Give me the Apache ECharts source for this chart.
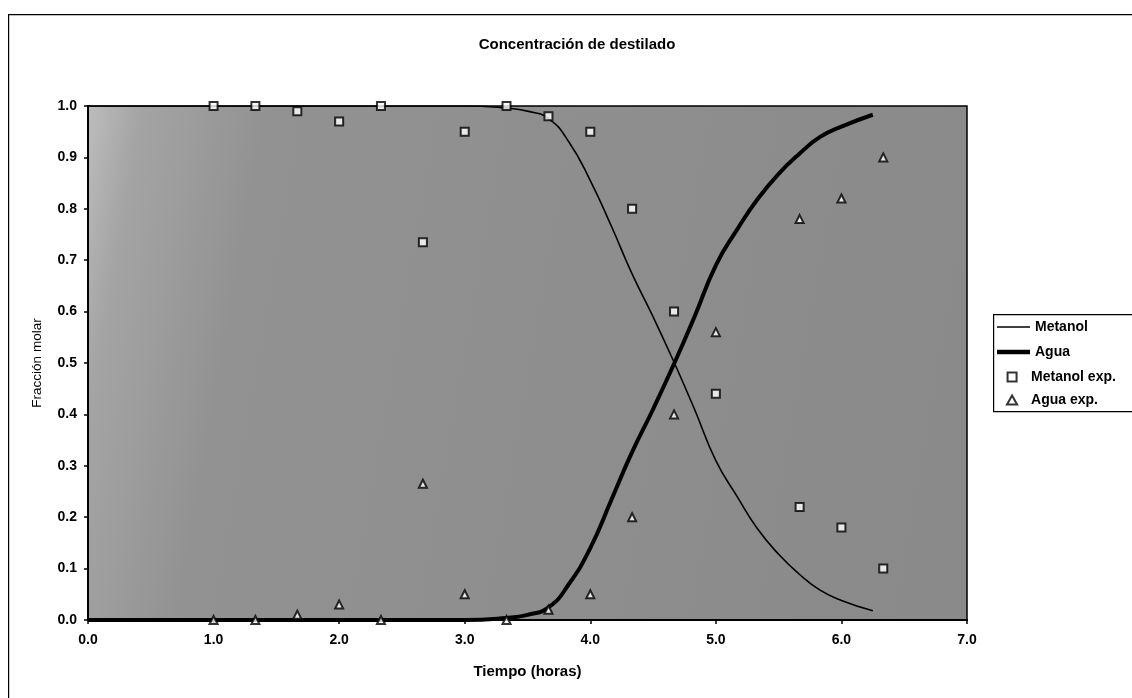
<!DOCTYPE html>
<html>
<head>
<meta charset="utf-8">
<script src="https://cdn.jsdelivr.net/npm/echarts@6/dist/echarts.min.js"></script>
<style>
html,body{margin:0;padding:0;background:#fff;}
#chart{width:1132px;height:698px;}
</style>
</head>
<body>
<div id="chart"></div>
<script>
// ---- Data ----
const titleText = 'Concentración de destilado';
const xAxisName = 'Tiempo (horas)';
const yAxisName = 'Fracción molar';

// experimental times (h)
const timeExp = [1.0, 1.333, 1.667, 2.0, 2.333, 2.667, 3.0, 3.333, 3.667, 4.0, 4.333, 4.667, 5.0, 5.667, 6.0, 6.333];
const metanolExp = [1.0, 1.0, 0.99, 0.97, 1.0, 0.735, 0.95, 1.0, 0.98, 0.95, 0.80, 0.60, 0.44, 0.22, 0.18, 0.10];
const aguaExp    = [0.0, 0.0, 0.01, 0.03, 0.0, 0.265, 0.05, 0.0, 0.02, 0.05, 0.20, 0.40, 0.56, 0.78, 0.82, 0.90];

// model curves
const timeModel = [0, 1, 2, 3, 3.33, 3.5, 3.67, 3.83, 4.0, 4.17, 4.33, 4.5, 4.67, 4.83, 5.0, 5.17, 5.33, 5.5, 5.67, 5.83, 6.0, 6.25];
const metanolModel = [1.0, 1.0, 1.0, 1.0, 0.996, 0.99, 0.975, 0.93, 0.855, 0.765, 0.675, 0.59, 0.50, 0.41, 0.31, 0.24, 0.178, 0.128, 0.088, 0.058, 0.038, 0.018];
const aguaModel    = [0.0, 0.0, 0.0, 0.0, 0.004, 0.01, 0.025, 0.07, 0.14, 0.235, 0.325, 0.41, 0.50, 0.59, 0.69, 0.76, 0.818, 0.868, 0.908, 0.94, 0.96, 0.983];

const xTicks = [0, 1, 2, 3, 4, 5, 6, 7];
const yTicks = [0, 0.1, 0.2, 0.3, 0.4, 0.5, 0.6, 0.7, 0.8, 0.9, 1.0];

const zip = (xs, ys) => xs.map((x, i) => [x, ys[i]]);

const FONT = "'Liberation Sans', Arial, sans-serif";

const chart = echarts.init(document.getElementById('chart'), null, {renderer: 'canvas'});

const option = {
  animation: false,
  backgroundColor: '#ffffff',
  title: {
    text: titleText,
    left: 572, textAlign: 'center',
    top: 32,
    textStyle: {fontFamily: FONT, fontSize: 15, fontWeight: 'bold', color: '#000'}
  },
  grid: {
    left: 88, right: 165, top: 106, bottom: 78,
    show: true,
    backgroundColor: {
      type: 'linear', x: 0, y: 0, x2: 1, y2: 0.3,
      colorStops: [
        {offset: 0, color: '#bdbdbd'},
        {offset: 0.06, color: '#a4a4a4'},
        {offset: 0.2, color: '#929292'},
        {offset: 1, color: '#8a8a8a'}
      ]
    },
    borderColor: '#000', borderWidth: 1.5
  },
  xAxis: {
    type: 'value', min: xTicks[0], max: xTicks[xTicks.length - 1], interval: 1,
    name: xAxisName, nameLocation: 'middle', nameGap: 44,
    nameTextStyle: {fontFamily: FONT, fontSize: 15, fontWeight: 'bold', color: '#000'},
    axisLine: {show: true, lineStyle: {color: '#000', width: 2}},
    axisTick: {show: true, length: 4, lineStyle: {color: '#000', width: 1.5}},
    axisLabel: {margin: 13, fontFamily: FONT, fontSize: 14, fontWeight: 'bold', color: '#000',
      formatter: v => v.toFixed(1)},
    splitLine: {show: false}
  },
  yAxis: {
    type: 'value', min: yTicks[0], max: yTicks[yTicks.length - 1], interval: 0.1,
    name: yAxisName, nameLocation: 'middle', nameGap: 44, nameRotate: 90,
    nameTextStyle: {fontFamily: FONT, fontSize: 13.5, color: '#000'},
    axisLine: {show: true, lineStyle: {color: '#000', width: 2}},
    axisTick: {show: true, length: 4, lineStyle: {color: '#000', width: 1.5}},
    axisLabel: {margin: 11, fontFamily: FONT, fontSize: 14, fontWeight: 'bold', color: '#000',
      formatter: v => v.toFixed(1)},
    splitLine: {show: false}
  },
  legend: [
    {
      data: [
        {name: 'Metanol', icon: 'path://M0,0L33,0L33,1.6L0,1.6Z'},
        {name: 'Agua', icon: 'path://M0,0L33,0L33,4.5L0,4.5Z'}
      ],
      orient: 'vertical', left: 992, top: 315,
      itemWidth: 33, itemHeight: 14, itemGap: 11,
      itemStyle: {color: '#000', borderWidth: 0},
      textStyle: {fontFamily: FONT, fontSize: 14, fontWeight: 'bold', color: '#000'},
      selectedMode: false
    },
    {
      data: [
        {name: 'Metanol exp.', icon: 'path://M0,0L9,0L9,9L0,9Z'},
        {name: 'Agua exp.', icon: 'path://M4.5,0L9,8L0,8Z'}
      ],
      orient: 'vertical', left: 1001, top: 365,
      itemWidth: 28, itemHeight: 9, itemGap: 9,
      itemStyle: {color: '#fff', borderColor: '#000', borderWidth: 2},
      textStyle: {fontFamily: FONT, fontSize: 14, fontWeight: 'bold', color: '#000'},
      selectedMode: false
    }
  ],
  graphic: [
    {type: 'rect', left: 993, top: 314, shape: {width: 145, height: 97},
      style: {fill: 'rgba(0,0,0,0)', stroke: '#000', lineWidth: 1.2}, z: -1, silent: true},
    {type: 'rect', left: 8, top: 14, shape: {width: 1140, height: 700},
      style: {fill: 'rgba(0,0,0,0)', stroke: '#000', lineWidth: 1.2}, z: -1, silent: true}
  ],
  series: [
    {
      name: 'Metanol', type: 'line', data: zip(timeModel, metanolModel),
      smooth: 0.5, showSymbol: false, symbol: 'none',
      lineStyle: {color: '#000', width: 1.6}, itemStyle: {color: '#000'}, z: 3
    },
    {
      name: 'Agua', type: 'line', data: zip(timeModel, aguaModel),
      smooth: 0.5, showSymbol: false, symbol: 'none',
      lineStyle: {color: '#000', width: 4}, itemStyle: {color: '#000'}, z: 3
    },
    {
      name: 'Metanol exp.', type: 'scatter', data: zip(timeExp, metanolExp),
      symbol: 'rect', symbolSize: 8,
      itemStyle: {color: '#fff', borderColor: '#000', borderWidth: 2}, z: 5
    },
    {
      name: 'Agua exp.', type: 'scatter', data: zip(timeExp, aguaExp),
      symbol: 'triangle', symbolSize: 8,
      itemStyle: {color: '#fff', borderColor: '#000', borderWidth: 2}, z: 5
    }
  ]
};
chart.setOption(option);
</script>
</body>
</html>
